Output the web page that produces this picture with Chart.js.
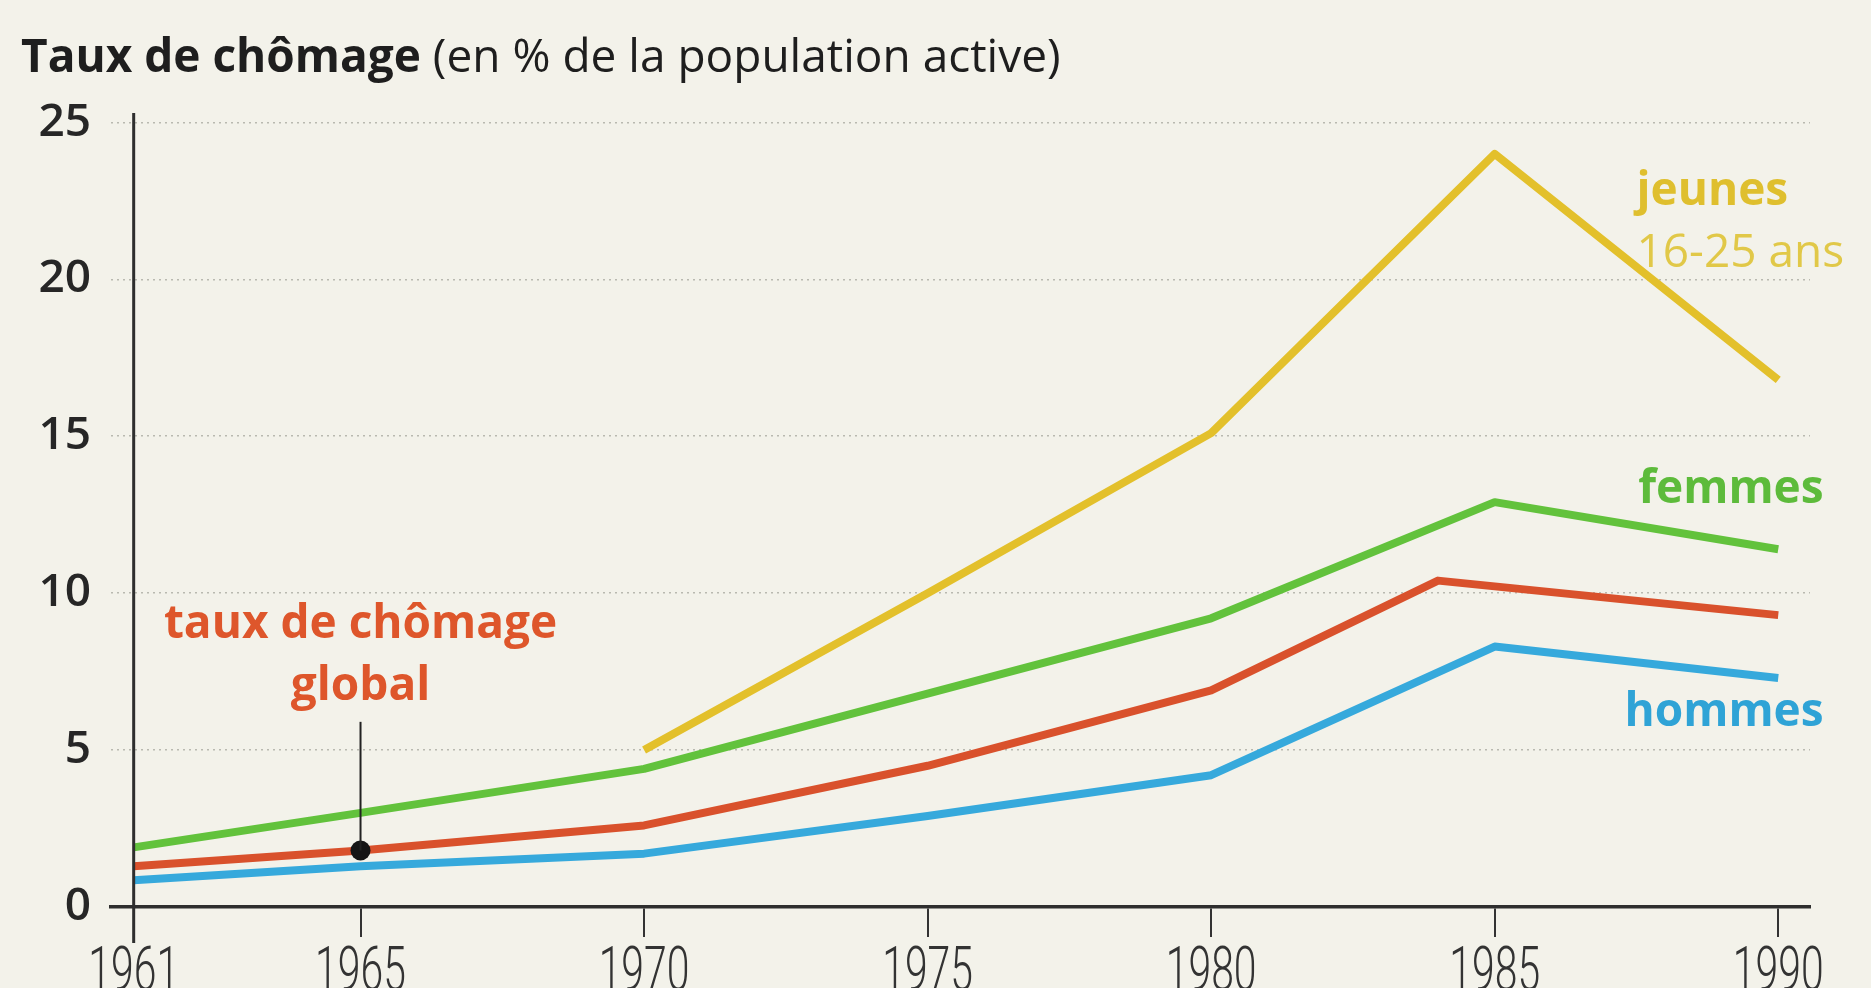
<!DOCTYPE html>
<html>
<head>
<meta charset="UTF-8">
<title>Taux de chômage</title>
<script src="https://cdn.jsdelivr.net/npm/chart.js"></script>
<style>
    html, body {
        margin: 0;
        padding: 0;
        background: #f3f2ea;
        overflow: hidden;
    }
    #wrap {
        position: relative;
        width: 1871px;
        height: 988px;
    }
    #title {
        position: absolute;
        left: 21px;
        top: 31px;
        font-family: "Open Sans", sans-serif;
        font-size: 46px;
        line-height: 46px;
        color: #1e1e1e;
        white-space: nowrap;
    }
    #title b { font-weight: 700; }
</style>
</head>
<body>
<div id="wrap">
    <canvas id="chart" width="1871" height="988"></canvas>
    <div id="title"><b>Taux de chômage</b> (en % de la population active)</div>
</div>

<script>
    // data (percent of active population)
    const years = [1961, 1965, 1970, 1975, 1980, 1985, 1990];
    const yearsGlobal = [1961, 1965, 1970, 1975, 1980, 1984, 1990];
    const yearsJeunes = [1970, 1975, 1980, 1985, 1990];

    const jeunes = [5.0, 10.0, 15.1, 24.0, 16.8];
    const femmes = [1.9, 3.0, 4.4, 6.8, 9.2, 12.9, 11.4];
    const globalRate = [1.3, 1.8, 2.6, 4.5, 6.9, 10.4, 9.3];
    const hommes = [0.85, 1.3, 1.7, 2.9, 4.2, 8.3, 7.3];

    const xTicks = [1961, 1965, 1970, 1975, 1980, 1985, 1990];
    const yTicks = [0, 5, 10, 15, 20, 25];

    const COL = {
        jeunes: '#e3c02b',
        femmes: '#62c23c',
        global: '#d9512c',
        hommes: '#36a9dc'
    };

    function pts(xs, ys) {
        return xs.map((x, i) => ({ x: x, y: ys[i] }));
    }

    // the black dot on the global line (1965)
    const dotRadius = yearsGlobal.map(y => y === 1965 ? 10 : 0);

    // y axis line at 1961, condensed year labels, series names, pointer line
    const decorations = {
        id: 'decorations',
        afterDraw(chart) {
            const ctx = chart.ctx;
            const xs = chart.scales.x;
            const ys = chart.scales.y;
            const area = chart.chartArea;

            // vertical axis
            const x0 = xs.getPixelForValue(1961);
            ctx.save();
            ctx.strokeStyle = '#2e2e2e';
            ctx.lineWidth = 3;
            ctx.beginPath();
            ctx.moveTo(x0, area.top);
            ctx.lineTo(x0, area.bottom + 36);
            ctx.stroke();
            ctx.restore();

            // year labels (narrow)
            ctx.save();
            ctx.fillStyle = '#333';
            ctx.font = '300 62px Roboto';
            ctx.textAlign = 'center';
            ctx.textBaseline = 'top';
            xTicks.forEach(yr => {
                ctx.save();
                ctx.translate(xs.getPixelForValue(yr), area.bottom + 36);
                ctx.scale(0.66, 1);
                ctx.fillText(String(yr), 0, 0);
                ctx.restore();
            });
            ctx.restore();

            // pointer from label to dot
            const px = xs.getPixelForValue(1965);
            ctx.save();
            ctx.strokeStyle = '#222';
            ctx.lineWidth = 2;
            ctx.beginPath();
            ctx.moveTo(px, ys.getPixelForValue(5.9));
            ctx.lineTo(px, ys.getPixelForValue(globalRate[1]));
            ctx.stroke();
            ctx.restore();

            // series names
            const txt = (s, x, y, col, weight, align) => {
                ctx.save();
                ctx.fillStyle = col;
                ctx.font = weight + ' 46px "Open Sans"';
                ctx.textAlign = align;
                ctx.textBaseline = 'middle';
                ctx.fillText(s, xs.getPixelForValue(x), ys.getPixelForValue(y));
                ctx.restore();
            };
            txt('jeunes', 1987.5, 22.8, '#dfbf2e', '700', 'left');
            txt('16-25 ans', 1987.5, 20.8, '#e1c848', '400', 'left');
            txt('femmes', 1990.8, 13.3, '#5dbb3b', '700', 'right');
            txt('hommes', 1990.8, 6.2, '#2fa3d6', '700', 'right');
            txt('taux de chômage', 1965, 9.0, '#de562b', '700', 'center');
            txt('global', 1965, 7.0, '#de562b', '700', 'center');
        }
    };

    const line = (label, data, color, extra) => Object.assign({
        label: label,
        data: data,
        borderColor: color,
        backgroundColor: color,
        borderWidth: 8,
        pointRadius: 0,
        fill: false,
        tension: 0,
        borderCapStyle: 'butt',
        borderJoinStyle: 'round'
    }, extra || {});

    new Chart(document.getElementById('chart'), {
        type: 'line',
        data: {
            datasets: [
                line('jeunes 16-25 ans', pts(yearsJeunes, jeunes), COL.jeunes),
                line('femmes', pts(years, femmes), COL.femmes),
                line('hommes', pts(years, hommes), COL.hommes),
                line('taux de chômage global', pts(yearsGlobal, globalRate), COL.global, {
                    pointRadius: dotRadius,
                    pointBackgroundColor: '#151515',
                    pointBorderColor: '#151515',
                    pointBorderWidth: 0
                })
            ]
        },
        options: {
            responsive: false,
            animation: false,
            events: [],
            layout: { padding: { top: 113, right: 61, left: 0, bottom: 0 } },
            plugins: {
                legend: { display: false },
                tooltip: { enabled: false }
            },
            scales: {
                x: {
                    type: 'linear',
                    min: 1960.6,
                    max: 1990.56,
                    afterBuildTicks: s => { s.ticks = xTicks.map(v => ({ value: v })); },
                    afterFit: s => { s.height = 81; },
                    ticks: { display: false },
                    grid: {
                        drawOnChartArea: false,
                        drawTicks: true,
                        tickLength: 30,
                        color: '#333',
                        lineWidth: 2
                    },
                    border: { display: true, color: '#2e2e2e', width: 3.5 }
                },
                y: {
                    min: 0,
                    max: 25.3,
                    afterBuildTicks: s => { s.ticks = yTicks.map(v => ({ value: v })); },
                    afterFit: s => { s.width = 111; },
                    ticks: {
                        padding: 20,
                        color: '#262626',
                        font: { family: '"Open Sans"', size: 46, weight: '600' }
                    },
                    grid: {
                        drawTicks: false,
                        lineWidth: 1.5,
                        color: c => c.tick && c.tick.value === 0 ? 'rgba(0,0,0,0)' : '#b9b9b0'
                    },
                    border: { display: false, dash: [2, 4] }
                }
            }
        },
        plugins: [decorations]
    });
</script>
</body>
</html>
